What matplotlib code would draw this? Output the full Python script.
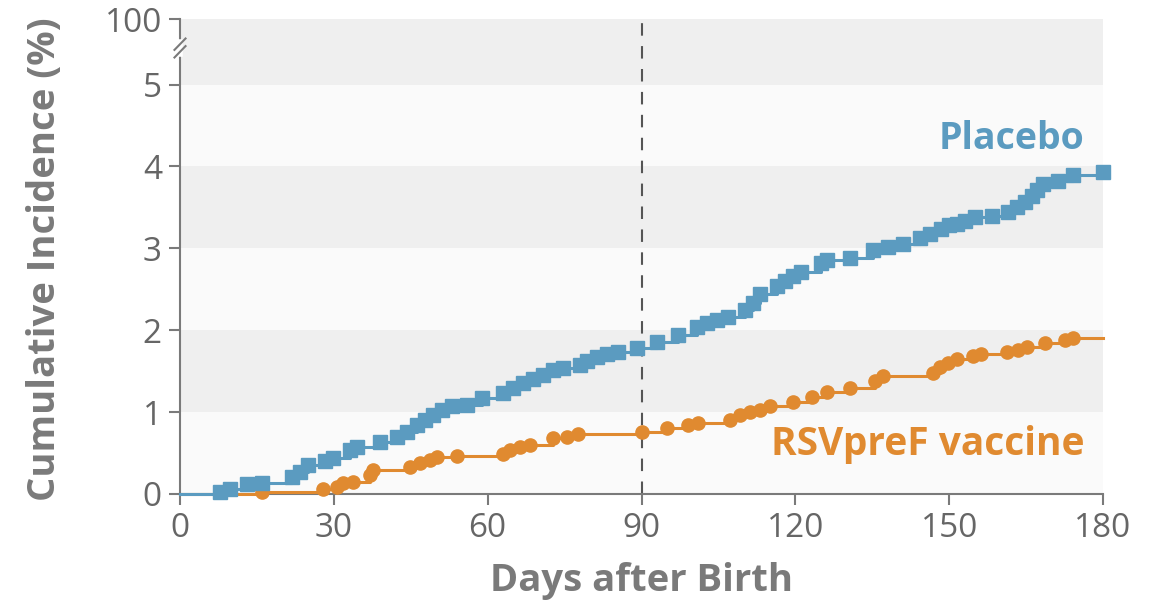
import matplotlib
matplotlib.use("Agg")
import matplotlib.pyplot as plt
import numpy as np

# ---- data ----
placebo_days = [0, 7.8, 9.8, 13.0, 15.9, 21.8, 23.4, 25.0, 28.3, 29.8, 33.2, 34.5, 39.0,
                42.3, 44.2, 46.2, 47.8, 49.4, 51.0, 53.0, 55.9, 58.8, 63.0, 65.0, 66.9,
                68.9, 70.8, 72.8, 74.7, 78.0, 79.3, 81.3, 83.2, 85.5, 89.1, 93.0, 97.2,
                100.8, 102.7, 104.7, 106.9, 110.2, 111.8, 113.1, 116.4, 118.0, 119.6,
                121.2, 125.1, 126.1, 130.7, 135.2, 138.1, 141.0, 144.3, 146.3, 148.5,
                150.0, 151.5, 153.0, 155.0, 158.3, 161.5, 163.2, 164.8, 166.1, 167.2,
                168.3, 171.3, 174.2, 180.0]
placebo_pct = [0, 0.03, 0.06, 0.12, 0.14, 0.21, 0.27, 0.35, 0.40, 0.44, 0.54, 0.57, 0.64,
               0.70, 0.76, 0.84, 0.90, 0.96, 1.02, 1.07, 1.09, 1.17, 1.23, 1.29, 1.35,
               1.40, 1.45, 1.51, 1.54, 1.57, 1.62, 1.67, 1.71, 1.74, 1.78, 1.85, 1.94,
               2.04, 2.09, 2.13, 2.16, 2.25, 2.33, 2.44, 2.54, 2.60, 2.66,
               2.71, 2.82, 2.86, 2.88, 2.98, 3.01, 3.05, 3.12, 3.18, 3.24,
               3.28, 3.30, 3.33, 3.38, 3.40, 3.44, 3.50, 3.56, 3.64, 3.71,
               3.78, 3.82, 3.90, 3.93]

vaccine_days = [0, 15.9, 27.9, 30.6, 31.8, 33.8, 37.1, 37.7, 44.9, 46.8, 48.8, 50.1, 54.0,
                63.0, 64.4, 66.3, 68.3, 72.8, 75.4, 77.7, 90.0, 94.9, 99.1, 101.1, 107.3,
                109.2, 111.2, 113.1, 115.0, 119.6, 123.2, 126.1, 130.7, 135.5, 137.1,
                146.9, 148.2, 149.8, 151.5, 154.7, 156.3, 161.2, 163.5, 165.1, 168.7,
                172.5, 174.2]
vaccine_pct = [0, 0.02, 0.06, 0.08, 0.13, 0.15, 0.23, 0.29, 0.33, 0.38, 0.42, 0.45, 0.46,
               0.49, 0.54, 0.57, 0.60, 0.68, 0.70, 0.73, 0.76, 0.80, 0.84, 0.87, 0.90,
               0.96, 1.00, 1.03, 1.08, 1.12, 1.19, 1.24, 1.29, 1.38, 1.44,
               1.48, 1.55, 1.60, 1.65, 1.68, 1.71, 1.73, 1.76, 1.80, 1.84,
               1.88, 1.91]
follow_up_end = 180

x_ticks = [0, 30, 60, 90, 120, 150, 180]
y_ticks = [0, 1, 2, 3, 4, 5]
y_top_label = "100"
break_pos = 5.8   # axis position where the 100 % tick is drawn

# ---- style ----
BLUE = "#5b9bc0"
ORANGE = "#e08a30"
GRAY = "#7a7a7a"
TICKGRAY = "#666666"
BAND_DARK = "#efefef"
BAND_LIGHT = "#fafafa"
FONT = ["Open Sans", "DejaVu Sans"]

plt.rcParams["font.family"] = FONT

fig = plt.figure(figsize=(11.6, 6.05), dpi=100)
ax = fig.add_axes([180 / 1160, 1 - 494 / 605, (1103 - 180) / 1160, (494 - 19) / 605])
ax.set_xlim(0, 180)
ax.set_ylim(0, break_pos)

# background bands
bands = [(0, 1, BAND_LIGHT), (1, 2, BAND_DARK), (2, 3, BAND_LIGHT), (3, 4, BAND_DARK),
         (4, 5, BAND_LIGHT), (5, break_pos, BAND_DARK)]
for lo, hi, c in bands:
    ax.axhspan(lo, hi, color=c, lw=0, zorder=0)

# dashed line at 90 days
ax.axvline(90, color="#555555", lw=1.5, ls=(0, (6, 5)), zorder=1)

# vaccine
vx = np.append(vaccine_days, follow_up_end)
vy = np.append(vaccine_pct, vaccine_pct[-1])
ax.plot(vx, vy, drawstyle="steps-post", color=ORANGE, lw=2.2, zorder=2, clip_on=False)
ax.plot(vaccine_days[1:], vaccine_pct[1:], ls="none", marker="o", ms=9.5, color=ORANGE,
        mec=ORANGE, zorder=3, clip_on=False)

# placebo
ax.plot(placebo_days, placebo_pct, drawstyle="steps-post", color=BLUE, lw=2.2, zorder=4,
        clip_on=False)
ax.plot(placebo_days[1:], placebo_pct[1:], ls="none", marker="s", ms=10, color=BLUE,
        mec=BLUE, zorder=5, clip_on=False)

# axes styling
for s in ["top", "right"]:
    ax.spines[s].set_visible(False)
for s in ["left", "bottom"]:
    ax.spines[s].set_color(GRAY)
    ax.spines[s].set_linewidth(1.5)
ax.spines["bottom"].set_zorder(1.5)

ax.set_xticks(x_ticks)
ax.set_xticklabels([str(t) for t in x_ticks])
ax.set_yticks(y_ticks + [break_pos])
ax.set_yticklabels([str(t) for t in y_ticks] + [y_top_label])
ax.tick_params(axis="both", direction="out", length=8, width=1.5, color=GRAY,
               labelcolor=TICKGRAY, labelsize=24)
ax.tick_params(axis="x", pad=5)
ax.tick_params(axis="y", pad=5)

# axis break marks
trans = ax.transAxes
yb = 1 - (48 - 19) / (494 - 19)
ax.plot([0, 0], [yb - 0.012, yb + 0.012], transform=trans, color="white", lw=4,
        clip_on=False, zorder=10)
for dy in (-0.008, 0.008):
    ax.plot([-0.006, 0.006], [yb + dy - 0.012, yb + dy + 0.012], transform=trans,
            color=GRAY, lw=1.5, clip_on=False, zorder=11)

# series labels
ax.text(162.2, 4.33, "Placebo", color=BLUE, fontsize=27, fontweight="bold",
        ha="center", va="center")
ax.text(145.9, 0.60, "RSVpreF vaccine", color=ORANGE, fontsize=28, fontweight="bold",
        ha="center", va="center")

# axis titles
fig.text(641 / 1160, 1 - 581 / 605, "Days after Birth", color=GRAY, fontsize=27.5,
         fontweight="bold", ha="center", va="center")
fig.text(45 / 1160, 1 - 259 / 605, "Cumulative Incidence (%)", color=GRAY, fontsize=27.5,
         fontweight="bold", ha="center", va="center", rotation=90)

fig.savefig("out.png", dpi=100)
